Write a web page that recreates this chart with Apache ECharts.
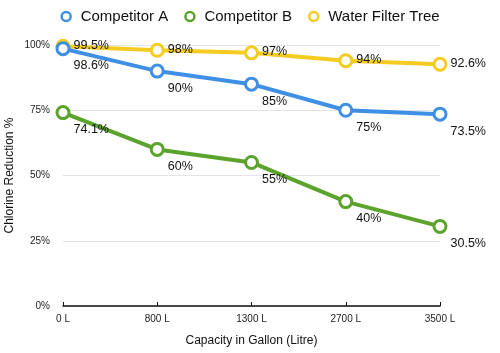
<!DOCTYPE html>
<html>
<head>
<meta charset="utf-8">
<script src="https://cdn.jsdelivr.net/npm/echarts@6/dist/echarts.min.js"></script>
<style>
  html, body { margin: 0; padding: 0; background: #fff; }
  #main { width: 500px; height: 353px; }
</style>
</head>
<body>
<div id="main"></div>
<script>
const categories = ['0 L', '800 L', '1300 L', '2700 L', '3500 L'];
const competitorA = [98.6, 90, 85, 75, 73.5];
const competitorB = [74.1, 60, 55, 40, 30.5];
const waterFilterTree = [99.5, 98, 97, 94, 92.6];

const font = 'Liberation Sans, Arial, Helvetica, sans-serif';

function lineSeries(name, data, color, labelOffset) {
  return {
    name: name,
    type: 'line',
    data: data,
    symbol: 'circle',
    symbolSize: 12,
    showAllSymbol: true,
    lineStyle: { color: color, width: 4 },
    itemStyle: { color: '#fff', borderColor: color, borderWidth: 3 },
    label: {
      show: true,
      position: 'right',
      distance: 3,
      offset: labelOffset,
      formatter: '{c}%',
      color: '#111',
      fontSize: 12.5,
      fontFamily: font
    },
    emphasis: { disabled: true }
  };
}

var chartDom = document.getElementById('main');
var myChart = echarts.init(chartDom);
var option = {
  animation: false,
  textStyle: { fontFamily: font },
  legend: {
    top: 4,
    left: 'center',
    itemGap: 16,
    itemWidth: 9,
    itemHeight: 9,
    icon: 'circle',
    textStyle: { fontSize: 15, color: '#111', fontFamily: font, padding: [0, 0, 0, 5] },
    data: [
      { name: 'Competitor A', itemStyle: { color: '#fff', borderColor: '#3f8fe5', borderWidth: 2.5 } },
      { name: 'Competitor B', itemStyle: { color: '#fff', borderColor: '#5ba32d', borderWidth: 2.5 } },
      { name: 'Water Filter Tree', itemStyle: { color: '#fff', borderColor: '#f4cb20', borderWidth: 2.5 } }
    ]
  },
  grid: {
    left: 63,
    right: 60,
    top: 45,
    bottom: 47,
    containLabel: false,
    outerBoundsMode: 'none'
  },
  xAxis: {
    type: 'category',
    boundaryGap: false,
    data: categories,
    name: 'Capacity in Gallon (Litre)',
    nameLocation: 'middle',
    nameGap: 29,
    nameMoveOverlap: false,
    nameTextStyle: { fontSize: 12, color: '#111' },
    axisLine: { lineStyle: { color: '#111', width: 1.5 } },
    axisTick: { show: true, alignWithLabel: true, length: 4, inside: true, lineStyle: { color: '#111' } },
    axisLabel: { fontSize: 10, color: '#222', margin: 8 }
  },
  yAxis: {
    type: 'value',
    min: 0,
    max: 100,
    interval: 25,
    name: 'Chlorine Reduction %',
    nameLocation: 'middle',
    nameGap: 47,
    nameMoveOverlap: false,
    nameTextStyle: { fontSize: 12, color: '#111' },
    axisLine: { show: false },
    axisTick: { show: false },
    axisLabel: { fontSize: 10, color: '#222', formatter: '{value}%', margin: 13 },
    splitLine: { lineStyle: { color: '#e4e4e4', width: 1 } }
  },
  series: [
    lineSeries('Water Filter Tree', waterFilterTree, '#f4cb20', [0, -1]),
    lineSeries('Competitor A', competitorA, '#3f8fe5', [0, 17]),
    lineSeries('Competitor B', competitorB, '#5ba32d', [0, 17])
  ]
};
// keep legend order A, B, WFT while WFT draws beneath
option.series[0].z = 1;
option.series[1].z = 3;
option.series[2].z = 2;

option && myChart.setOption(option);
</script>
</body>
</html>
